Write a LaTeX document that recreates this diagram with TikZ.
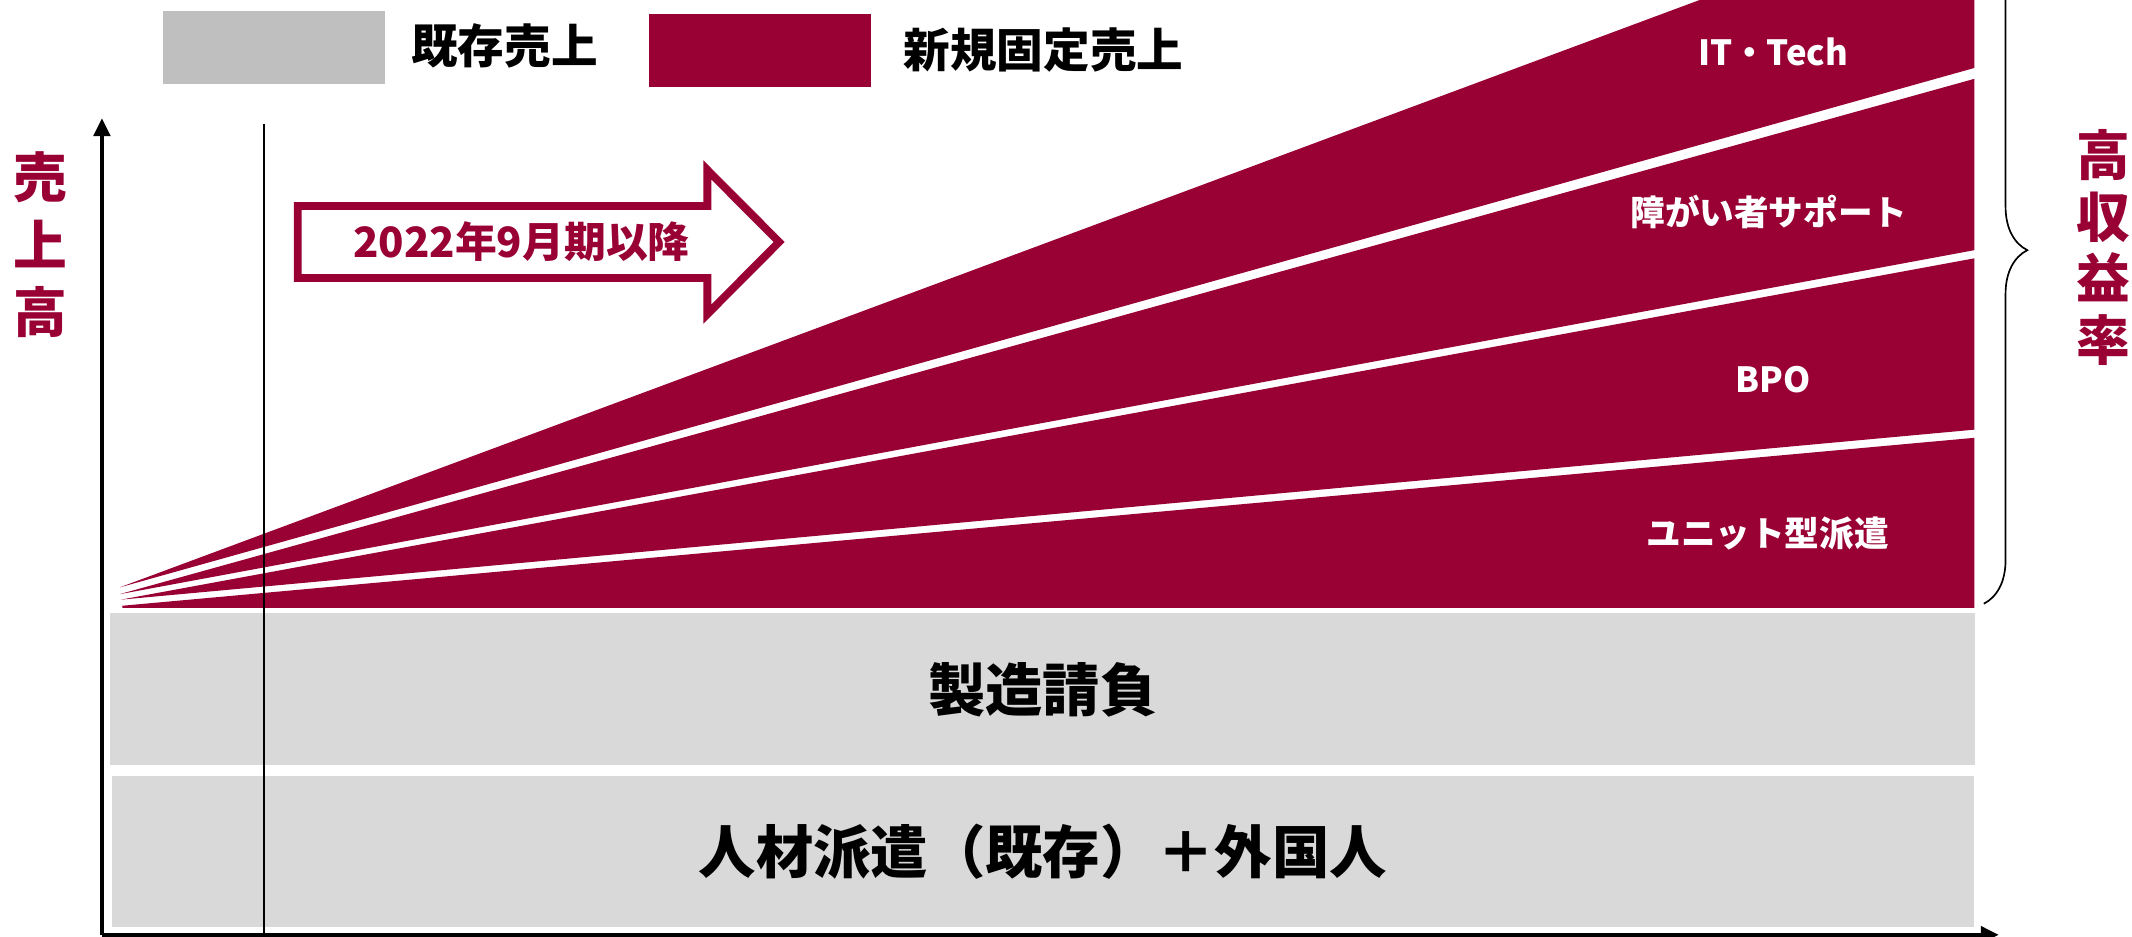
\documentclass[tikz,border=0pt]{standalone}
\usepackage{fontspec}
\setmainfont{Noto Sans CJK JP}
\usetikzlibrary{arrows.meta,decorations.pathreplacing}
\definecolor{brand}{HTML}{990033}
\definecolor{legendgray}{HTML}{BFBFBF}
\definecolor{boxgray}{HTML}{D9D9D9}
\begin{document}
\begin{tikzpicture}[x=0.02cm,y=-0.02cm,
  legbox/.style={draw=none,minimum width=3.26cm,minimum height=1.08cm,inner sep=0pt},
  legtext/.style={inner sep=0pt,font=\bfseries\fontsize{19.5}{23}\selectfont,text=black},
  bandlabel/.style={inner sep=0pt,font=\bfseries\fontsize{14.5}{17}\selectfont,text=white},
  catbox/.style={fill=boxgray,draw=none,inner sep=0pt,font=\bfseries\fontsize{24}{28}\selectfont,text=black},
  sidelabel/.style={inner sep=0pt,align=center,text=brand},
  axisline/.style={line width=1.45pt,-{Triangle[length=7.5pt,width=7pt]}},
  bandfill/.style={fill=brand}
]
\useasboundingbox (0,0) rectangle (1568,689);
\clip (0,0) rectangle (1568,689);

% legend
\node[legbox,fill=legendgray] (legA) at (201.5,35) {};
\node[legtext] (legAt) at (371,34) {既存売上};
\node[legbox,fill=brand] (legB) at (558.8,37) {};
\node[legtext] (legBt) at (767.5,37) {新規固定売上};

% red fan bands
\fill[bandfill] (88,432) -- (1250,0) -- (1452,0) -- (1452,50) -- cycle;
\fill[bandfill] (88,437) -- (1452,58) -- (1452,184) -- cycle;
\fill[bandfill] (89,441) -- (1452,190) -- (1452,316) -- cycle;
\fill[bandfill] (90,445.5) -- (1452,322) -- (1452,447) -- (90,447) -- cycle;

\node[bandlabel] (itt) at (1304,38) {IT・Tech};
\node[bandlabel] (dis) at (1301,156) {障がい者サポート};
\node[bandlabel] (bpo) at (1304,279) {BPO};
\node[bandlabel] (unit) at (1300,392) {ユニット型派遣};

% grey category boxes
\node[catbox,minimum width=27.44cm,minimum height=2.24cm] (mfg) at (767,507) {製造請負};
\node[catbox,minimum width=27.4cm,minimum height=2.22cm] (staff) at (767,626.5) {人材派遣（既存）＋外国人};

% period arrow
\draw[brand,line width=3.3pt,miter limit=10]
  (219,151.5) -- (520.25,151.5) -- (520.25,125) -- (573,178) -- (520.25,231) -- (520.25,204.5) -- (219,204.5) -- cycle;
\node[inner sep=0pt,text=brand,font=\bfseries\fontsize{17.5}{20}\selectfont] (period) at (383.5,178) {2022年9月期以降};

% side labels
\node[sidelabel,font=\bfseries\fontsize{22.5}{28.4}\selectfont] (sales) at (30,180) {売\\上\\高};
\node[sidelabel,font=\bfseries\fontsize{22.5}{25.8}\selectfont] (margin) at (1547,182) {高\\収\\益\\率};

% brace
\coordinate (braceTop) at (1459,-76);
\coordinate (braceBot) at (1459,444);
\draw[line width=0.7pt,decorate,decoration={brace,amplitude=0.64cm}] (braceTop) -- (braceBot);

% thin vertical line
\coordinate (vtop) at (194,91);
\coordinate (vbot) at (194,688);
\draw[line width=0.75pt] (vtop) -- (vbot);

% axes
\coordinate (origin) at (75,687.5);
\coordinate (ytop) at (75,87);
\coordinate (xend) at (1470,687.5);
\draw[axisline] (origin) -- (ytop);
\draw[axisline] (origin) -- (xend);
\end{tikzpicture}
\end{document}
